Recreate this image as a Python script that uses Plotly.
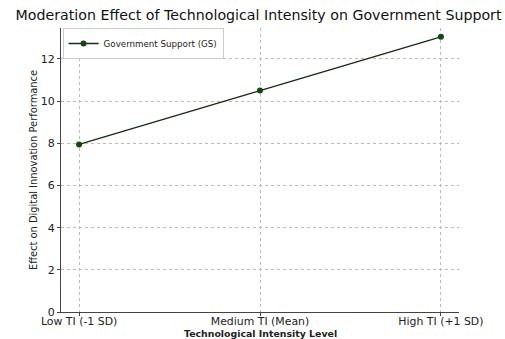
import plotly.graph_objects as go

categories = ["Low TI (-1 SD)", "Medium TI (Mean)", "High TI (+1 SD)"]
gs_values = [7.95, 10.5, 13.05]
y_ticks = [0, 2, 4, 6, 8, 10, 12]

font = "DejaVu Sans"
fig = go.Figure()
fig.add_trace(go.Scatter(
    x=list(range(len(categories))), y=gs_values, mode="lines+markers",
    name="Government Support (GS)",
    line=dict(color="#1a2a1a", width=1.5),
    marker=dict(color="#124712", size=6),
))
fig.update_layout(
    width=505, height=339,
    margin=dict(l=61, r=46, t=28, b=27, autoexpand=False),
    paper_bgcolor="white", plot_bgcolor="white",
    font=dict(family=font, color="#222", size=10),
    title=dict(text="Moderation Effect of Technological Intensity on Government Support",
               x=0.512, xanchor="center", y=0.955, yanchor="middle",
               font=dict(size=14.2, color="#111")),
    showlegend=True,
    legend=dict(x=0.004, y=1.0, xanchor="left", yanchor="top",
                bgcolor="white", bordercolor="#ccc", borderwidth=1,
                font=dict(size=8.7, color="#222"), itemwidth=30,
                tracegroupgap=0),
    xaxis=dict(range=[-0.1, 2.1], tickmode="array",
               tickvals=list(range(len(categories))), ticktext=categories,
               showgrid=True, gridcolor="#bbb", griddash="dot", gridwidth=0.8,
               showline=True, linecolor="#444", linewidth=1,
               ticks="outside", ticklen=3, tickcolor="#444",
               ticklabelstandoff=-4,
               tickfont=dict(size=10.9), zeroline=False),
    yaxis=dict(range=[0, 13.47], tickmode="array", tickvals=y_ticks,
               showgrid=True, gridcolor="#bbb", griddash="dot", gridwidth=0.8,
               showline=True, linecolor="#444", linewidth=1,
               ticks="outside", ticklen=3, tickcolor="#444",
               tickfont=dict(size=11), zeroline=False,
               title=dict(text="Effect on Digital Innovation Performance", standoff=1,
                          font=dict(size=9.9))),
    annotations=[dict(text="<b>Technological Intensity Level</b>", xref="paper", yref="paper",
                      x=0.5, y=-0.074, xanchor="center", yanchor="middle", showarrow=False,
                      font=dict(size=9.4, color="#222"))],
)
fig.write_html("out.html", config={"displayModeBar": False},
               post_script="document.body.style.margin='0';")
